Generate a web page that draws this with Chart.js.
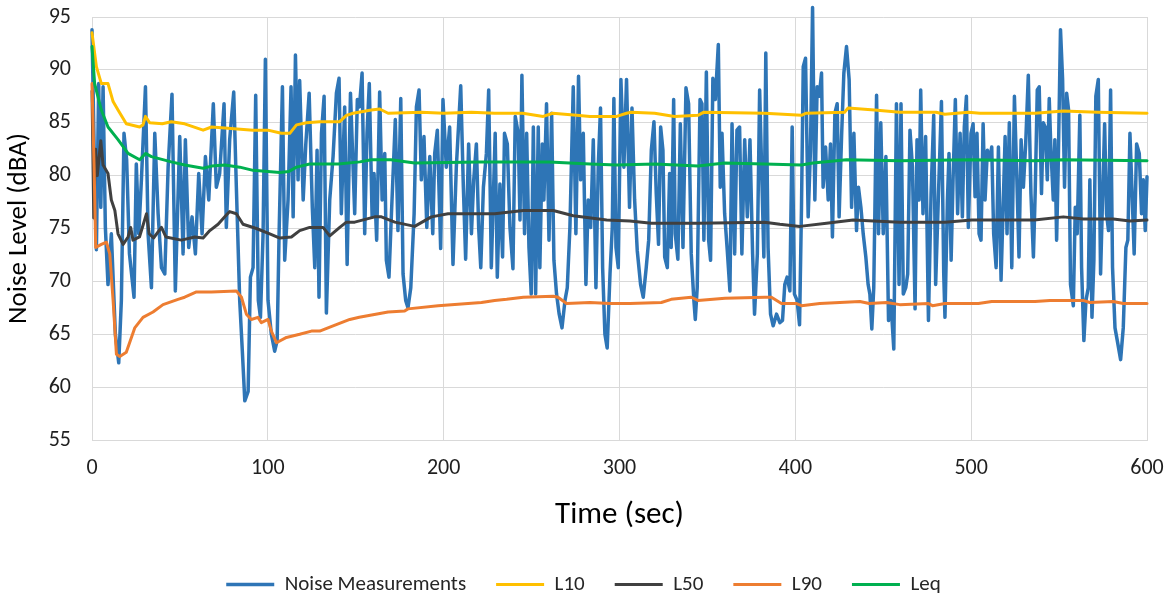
<!DOCTYPE html>
<html>
<head>
<meta charset="utf-8">
<script src="https://cdn.jsdelivr.net/npm/chart.js@4"></script>
<style>
  html, body { margin: 0; padding: 0; background: #fff; overflow: hidden; }
  #wrap { width: 1167px; height: 605px; }
</style>
</head>
<body>
<div id="wrap"><canvas id="noiseChart"></canvas></div>
<script>
// Axis ticks
const timeTicks = [0, 100, 200, 300, 400, 500, 600];
const levelTicks = [55, 60, 65, 70, 75, 80, 85, 90, 95];

// [time (sec), level (dBA)]
const noiseMeasurements = [
  [0, 93.8], [1.5, 80], [2.5, 73], [3.8, 88.7], [5, 77], [6.3, 88.4], [7.6, 75.1], [9.1, 69.7], [11, 74.5],
  [13.3, 65], [15.2, 62.3], [16.7, 68.2], [18.2, 84], [19.7, 81.5], [21.3, 72.6], [23.9, 68.5], [25.2, 81.1],
  [26.6, 74.5], [28.1, 79.6], [30.4, 88.4], [31.9, 74.5], [33.8, 69.4], [35.7, 84], [37.6, 76.4], [39.5, 71.3],
  [41.4, 70.7], [43.3, 80.8], [45.5, 87.7], [47.4, 69.1], [49.9, 83.7], [51.8, 72.6], [53.1, 83.4], [55, 73.2],
  [56.9, 76.1], [58.8, 72.6], [60.7, 80.2], [62.6, 74.5], [64.5, 81.8], [66.4, 77.7], [69, 86.8], [70.7, 78.9],
  [72.6, 80.2], [75.1, 86.8], [76.4, 75.1], [78.3, 83.4], [80.6, 87.9], [82.1, 78.9], [84, 68.2], [85.5, 63.4],
  [86.9, 58.7], [88.8, 59.6], [90.1, 70.4], [91.6, 71.3], [93.1, 87.6], [94.6, 68.2], [95.8, 66.6], [97.3, 74.5],
  [98.6, 91], [100.1, 68.2], [102, 65], [103.9, 63.4], [105.3, 64.4], [106.4, 74.5], [108.3, 88.4], [109.6, 72],
  [111.5, 77.7], [113.2, 88.4], [114.4, 76.1], [115.7, 91.4], [117.2, 79.6], [118.1, 89], [120.1, 77.7],
  [121.6, 83], [123.5, 87.8], [125.3, 77], [126.7, 71.3], [128, 82.4], [129.1, 68.5], [130.5, 84], [132, 87.5],
  [133.3, 67], [135.2, 77.7], [137.1, 81.8], [139, 87.8], [140.5, 89.2], [141.8, 76.4], [143.7, 86.5],
  [145.1, 71.6], [147, 87.8], [149.4, 76.4], [150.9, 87.2], [152.1, 86.5], [153.6, 89.7], [155.1, 74.5],
  [156.4, 84], [157.7, 88.7], [159.3, 76.1], [160.4, 80.2], [161.9, 73.9], [163.6, 87.9], [165, 77.7],
  [166.5, 82.1], [167.4, 72], [168.9, 70.4], [170.3, 76.4], [172.5, 85.3], [174, 74.8], [175.6, 87.3],
  [176.9, 70.7], [178.4, 68.2], [179.7, 67.5], [181.3, 69.4], [183.2, 76.4], [184.5, 86.5], [186, 88.1],
  [187.3, 79.6], [188.8, 83.7], [190.4, 75.1], [192.1, 81.8], [193.8, 74.5], [194.9, 82.1], [196.4, 84.3],
  [198.3, 73.1], [199.6, 87.2], [201.5, 80.8], [203.4, 84.6], [205.3, 71.6], [207.2, 80.8], [209.7, 88.5],
  [211.2, 78.9], [212.5, 72.1], [214.2, 83], [215.8, 74.5], [217.1, 79.6], [218.6, 83], [219.9, 75.1],
  [221.1, 71.3], [222.6, 78.9], [224.3, 82.1], [225.6, 88.1], [227.1, 71.3], [229.3, 84], [230.5, 70.4],
  [232, 79.2], [233.5, 72.3], [234.6, 84], [236.2, 83], [237.7, 75.1], [239.4, 71.2], [240.7, 85.6],
  [242.4, 84], [243.4, 75.8], [244.5, 89.5], [246, 74.5], [247.2, 84], [248.5, 73.2], [249.8, 68.8],
  [251, 84.6], [252.3, 68.8], [253.8, 84.6], [254.7, 71.3], [256.1, 83], [257, 77.7], [258.5, 86.8],
  [259.9, 73.9], [261.4, 85.9], [262.7, 72], [264.2, 68.8], [265.7, 66.9], [267.3, 65.6], [269, 68.2],
  [270.3, 69.4], [271.8, 75.1], [273.7, 88.4], [275.2, 74.5], [276.7, 89.4], [277.9, 79.6], [279.4, 84],
  [280.9, 69.7], [282.2, 77.7], [283.6, 75.1], [285.1, 83.4], [286.6, 69.4], [287.9, 80.8], [289.2, 86.4],
  [290.4, 71.3], [291.7, 65], [293, 63.7], [294.6, 70.7], [295.9, 75.1], [296.8, 87.3], [298, 73.2],
  [299.3, 71.3], [300.8, 89.1], [302.5, 80.8], [304, 89.1], [305.7, 77], [307.1, 86.4], [308.6, 77.7],
  [310.1, 72.9], [312, 69.7], [313.5, 68.5], [315.2, 71.3], [316.6, 73.9], [318.1, 82.4], [319.6, 85.1],
  [320.9, 78.3], [322.2, 73.5], [323.4, 84.6], [324.7, 82.4], [325.7, 72.3], [327.2, 71.3], [328.5, 80.2],
  [329.4, 73.2], [330.8, 87.2], [331.7, 74.5], [333.2, 72.1], [334.6, 84.9], [336.1, 73.2], [337.8, 88.3],
  [339.3, 86.8], [340.8, 72.6], [342.3, 68.2], [343.1, 66.4], [344.2, 69.4], [345.8, 87.2], [346.9, 86.8],
  [348, 73.9], [349.4, 89.8], [350.7, 73.9], [351.8, 72], [353.1, 89.2], [354.5, 87.2], [356.2, 92.4],
  [357.3, 78.9], [358.3, 84], [359.8, 76.4], [361.3, 72.9], [362.8, 69.1], [364, 84.9], [365.5, 72.6],
  [366.8, 84.3], [368.3, 84.6], [369.6, 72.6], [371.2, 83.4], [372.7, 76.1], [374.2, 83.4], [375.7, 72.6],
  [376.8, 66.9], [378.4, 72.6], [379.7, 88.1], [382.1, 72.3], [383.2, 91.6], [384.5, 73.2], [385.9, 66.9],
  [387.4, 65.8], [389.3, 66.9], [391.2, 66.1], [392.7, 66.3], [394, 69.7], [395.3, 70.4], [396.9, 69.1],
  [398.2, 84.6], [399.5, 68.8], [401, 68.2], [402.4, 65.9], [403.5, 77], [404.5, 90.3], [405.8, 91.1],
  [407.3, 76.1], [408.6, 82.4], [409.8, 95.9], [411.1, 77.7], [412.4, 88.4], [413.6, 87.5], [414.9, 89.7],
  [415.8, 78.9], [417.2, 82.7], [418.7, 77.7], [420, 83], [421.1, 74.2], [422.5, 85.9], [423.8, 86.8],
  [424.9, 76.1], [426.3, 83.7], [427.6, 89.7], [429.1, 92.2], [430.6, 89.1], [432, 77], [433.3, 84],
  [434.8, 74.8], [435.9, 78.9], [437.3, 77], [438.6, 74.5], [440.1, 72.3], [441.4, 69.7], [442.4, 68.8],
  [443.5, 65.5], [444.6, 69.4], [446.2, 87.6], [447.3, 74.5], [448.6, 85], [450, 74.5], [451.5, 81.8],
  [453, 66.3], [454.3, 68.2], [456, 63.6], [457.5, 86.8], [459, 69.7], [460.1, 86.8], [461.4, 68.8],
  [462.8, 69.4], [463.9, 70.7], [465.2, 84.3], [466.6, 80.8], [468.1, 67.4], [469.2, 83.4], [470.4, 77.7],
  [471.3, 88.1], [472.6, 76.4], [474.1, 83.7], [475.7, 66.3], [477.2, 78.3], [478.7, 85.7], [479.8, 69.7],
  [481.3, 77.7], [483.1, 87], [484.4, 70.7], [485.1, 66.6], [486.5, 77.7], [487.4, 82.1], [488.6, 72],
  [489.7, 79.6], [491, 87.2], [492.3, 76.4], [493.7, 84], [495, 76.1], [496.1, 84.6], [497.3, 87.5],
  [498.4, 75.1], [499.9, 84], [501.1, 84.9], [502.2, 78], [503.3, 84], [504.5, 74.5], [505.6, 73.9],
  [506.8, 84.9], [507.9, 77.7], [509.2, 82.4], [510.5, 81.5], [511.7, 82.7], [512.8, 74.5], [514.2, 71.3],
  [515.5, 82.7], [517, 70.1], [518.3, 77.7], [519.3, 83.7], [520.4, 74.5], [521.7, 85], [523.1, 71.3],
  [524.6, 87.5], [525.9, 80.2], [527.2, 72.3], [528.4, 83.4], [529.7, 78.9], [531, 83], [532.5, 89.5],
  [534, 78.3], [535.4, 72.3], [536.4, 78.3], [537.6, 88.1], [538.7, 88.4], [540, 78.3], [541, 85],
  [542.1, 84.6], [543.3, 79.6], [544.4, 87.3], [545.3, 82.7], [546.7, 77.7], [547.6, 83.4], [548.6, 73.9],
  [549.5, 80.8], [550.8, 93.8], [552, 89.1], [553.1, 78.9], [554.3, 87.8], [555.4, 86.2], [556.5, 69.7],
  [558.1, 67.7], [559.2, 77], [560.3, 74.5], [561.8, 85.7], [562.8, 71.3], [564.1, 64.4], [565.3, 68.2],
  [566.6, 69.4], [567.5, 79.6], [568.7, 66.6], [569.8, 72], [570.9, 87.5], [572.3, 89.1], [573.6, 70.7],
  [574.7, 77.7], [575.9, 84.9], [577, 76.4], [578.1, 74.8], [579.3, 88.1], [580.4, 71.3], [581.8, 65.6],
  [583.1, 64.4], [585, 62.6], [586.5, 65.6], [588, 73.2], [589.1, 73.9], [590.3, 84], [591.4, 78.9],
  [592.7, 72.6], [594.1, 83], [595.6, 82.1], [596.9, 76.4], [597.9, 79.6], [599, 74.8], [600, 79.9]
];

const l10 = [
  [0, 93.5], [2.5, 90.3], [5.3, 88.7], [9.1, 88.7], [12, 87], [14.8, 86.2], [19.5, 84.9], [27.1, 84.6],
  [29, 84.8], [30.4, 85.6], [32.8, 85], [40, 84.9], [45.1, 85.1], [52.7, 84.9], [63.2, 84.3], [68, 84.6],
  [75.5, 84.5], [91.6, 84.3], [100, 84.3], [107.7, 84], [112.5, 84], [116.3, 84.8], [122, 85], [129.5, 85.1],
  [140.9, 85.1], [144.7, 85.7], [148.5, 85.9], [158.9, 86.2], [163.6, 86.3], [168.4, 85.9], [187.3, 86],
  [200, 85.9], [215.8, 86], [229, 85.9], [245, 85.9], [256.6, 85.6], [262, 85.9], [275.6, 85.7], [283.2, 85.6],
  [298.4, 85.6], [304, 85.9], [306.7, 86], [320, 85.9], [331.3, 85.6], [344.6, 85.7], [348, 86], [382.5, 85.9],
  [403.5, 85.7], [406, 85.9], [428, 86], [430, 86.4], [445, 86.2], [459.4, 86], [480, 86], [485, 85.8],
  [498.4, 86], [505, 85.9], [536.3, 85.9], [552.4, 86.1], [572, 86], [600, 85.9]
];

const l50 = [
  [0, 88], [1, 76], [2, 82.5], [3, 80], [5, 83.3], [6.3, 81], [9.1, 80.2], [11, 77.7], [13, 76.7], [14.8, 74.5],
  [17.7, 73.5], [20.5, 74.2], [22, 75.1], [23.3, 73.9], [27, 74.2], [31, 76.4], [32.5, 74.5], [35, 74.1],
  [39.5, 75.1], [42, 74.2], [50.8, 73.9], [58.4, 74.2], [63.2, 74.1], [67, 74.8], [71.7, 75.4], [75.5, 76.1],
  [78.3, 76.6], [82.1, 76.4], [85.9, 75.4], [93.5, 75], [101.1, 74.5], [106.8, 74.1], [113.4, 74.2],
  [118.1, 74.8], [123.8, 75.1], [131.4, 75.1], [135.2, 74.3], [140.9, 75.1], [144.7, 75.6], [149.4, 75.6],
  [160.8, 76.1], [164.6, 76.1], [172.2, 75.6], [183.5, 75.2], [193, 76.1], [202.5, 76.4], [229, 76.4],
  [245.3, 76.7], [262.3, 76.7], [273.7, 76.2], [292.7, 75.8], [305.9, 75.7], [318.1, 75.5], [344.6, 75.5],
  [382.5, 75.6], [391.2, 75.4], [402.6, 75.2], [417.7, 75.5], [432.9, 75.8], [459.4, 75.6], [485.1, 75.6],
  [500.3, 75.8], [536, 75.8], [552.4, 76.1], [563.7, 75.9], [580.8, 75.9], [590.3, 75.7], [600, 75.8]
];

const l90 = [
  [0, 88.7], [1.2, 80.8], [2.1, 73.2], [5.3, 73.5], [8.2, 73.7], [10.1, 72.6], [12, 68.2], [13.9, 63.1],
  [15.8, 62.9], [19.5, 63.3], [24.3, 65.6], [29, 66.6], [34.7, 67.1], [40.4, 67.8], [48.9, 68.3], [52.7, 68.5],
  [59.4, 69], [67.9, 69], [82.1, 69.1], [85, 68.5], [87.8, 66.9], [90.6, 66.4], [94.4, 66.6], [96.3, 66.1],
  [100.1, 66.4], [102, 65.3], [104.9, 64.2], [110.6, 64.7], [118.1, 65], [124.8, 65.3], [129.5, 65.3],
  [137.1, 65.8], [146.6, 66.4], [152, 66.6], [168.4, 67.1], [177.8, 67.2], [179.7, 67.4], [196.8, 67.7],
  [221.5, 68], [229, 68.2], [235.8, 68.3], [245.3, 68.5], [262.3, 68.6], [265, 68.5], [269.9, 67.9],
  [283.2, 68], [294.6, 67.9], [305.9, 67.9], [323.8, 68], [329.4, 68.3], [340.8, 68.5], [344.6, 68.2],
  [360, 68.4], [382.5, 68.5], [386.4, 68.5], [392.1, 67.9], [400.7, 67.9], [403.5, 67.7], [413.9, 67.9],
  [436.7, 68.1], [442, 67.9], [451.9, 68], [459.4, 67.8], [475.7, 67.9], [478, 67.7], [485.1, 67.9],
  [504.1, 67.9], [511.7, 68.1], [536.3, 68.1], [544.8, 68.2], [563.7, 68.2], [567.5, 68], [580.8, 68.1],
  [586.5, 67.9], [600, 67.9]
];

const leq = [
  [0, 92.2], [1.5, 88.7], [5.3, 86.2], [9.1, 84.6], [14.8, 83.4], [20.5, 82.1], [27.1, 81.5], [30.4, 82.1],
  [33.8, 81.8], [45.1, 81.3], [52.7, 81], [63.2, 80.7], [68, 80.9], [75.5, 81], [84, 80.8], [91.6, 80.5],
  [106.8, 80.3], [112, 80.4], [116.3, 80.8], [123.8, 81.1], [140, 81.1], [152.3, 81.3], [158.9, 81.5],
  [170, 81.5], [183.5, 81.2], [220, 81.3], [260, 81.3], [283.2, 81.1], [298.4, 81], [320, 81.1],
  [344.6, 80.9], [359.8, 81.2], [382.5, 81.1], [403.5, 81], [410, 81.2], [429.1, 81.5], [459.4, 81.4],
  [500, 81.5], [536, 81.4], [552.4, 81.5], [600, 81.4]
];

const seriesNames = ['Noise Measurements', 'L10', 'L50', 'L90', 'Leq'];
const seriesColors = ['#2E75B6', '#FFC000', '#404040', '#ED7D31', '#00B050'];
const seriesData = [noiseMeasurements, l10, l50, l90, leq];

const toPoints = arr => arr.map(p => ({ x: p[0], y: p[1] }));

const datasets = seriesData.map((arr, i) => ({
    label: seriesNames[i],
    data: toPoints(arr),
    borderColor: seriesColors[i],
    backgroundColor: seriesColors[i],
    borderWidth: i === 0 ? 3.5 : 3,
    pointRadius: 0,
    tension: 0,
    borderJoinStyle: 'round',
    borderCapStyle: 'round',
    clip: false,
    // noise drawn underneath the statistical lines
    order: seriesData.length - i
}));

const tickColor = '#1f1f1f';
const gridColor = '#D9D9D9';
const fontFamily = 'Carlito, Lato, "Liberation Sans", sans-serif';

new Chart(document.getElementById('noiseChart'), {
    type: 'line',
    data: { datasets: datasets },
    options: {
        responsive: true,
        maintainAspectRatio: false,
        animation: false,
        layout: { padding: 0 },
        plugins: {
            legend: {
                position: 'bottom',
                labels: {
                    usePointStyle: true,
                    pointStyle: 'line',
                    pointStyleWidth: 48,
                    padding: 30,
                    color: '#262626',
                    font: { family: fontFamily, size: 21 },
                    sort: (a, b) => a.datasetIndex - b.datasetIndex
                }
            },
            tooltip: { enabled: false }
        },
        scales: {
            x: {
                type: 'linear',
                min: timeTicks[0],
                max: timeTicks[timeTicks.length - 1],
                afterBuildTicks: scale => { scale.ticks = timeTicks.map(v => ({ value: v })); },
                afterFit: scale => {
                    scale.height = 104;
                    scale.paddingRight = 20;
                },
                ticks: { padding: 15, color: tickColor, font: { family: fontFamily, size: 22 } },
                grid: { color: gridColor, drawTicks: false },
                border: { color: gridColor },
                title: {
                    display: true,
                    text: 'Time (sec)',
                    color: '#000',
                    font: { family: fontFamily, size: 31 },
                    padding: { top: 0, bottom: 10 }
                }
            },
            y: {
                min: levelTicks[0],
                max: levelTicks[levelTicks.length - 1],
                afterBuildTicks: scale => { scale.ticks = levelTicks.map(v => ({ value: v })); },
                afterFit: scale => {
                    scale.width = 92;
                    scale.paddingTop = 17;
                },
                ticks: { padding: 21, color: tickColor, font: { family: fontFamily, size: 22 } },
                grid: { color: gridColor, drawTicks: false },
                border: { display: false },
                title: {
                    display: true,
                    text: 'Noise Level (dBA)',
                    color: '#000',
                    font: { family: fontFamily, size: 27 },
                    padding: { top: 3, bottom: 0 }
                }
            }
        }
    }
});
</script>
</body>
</html>
